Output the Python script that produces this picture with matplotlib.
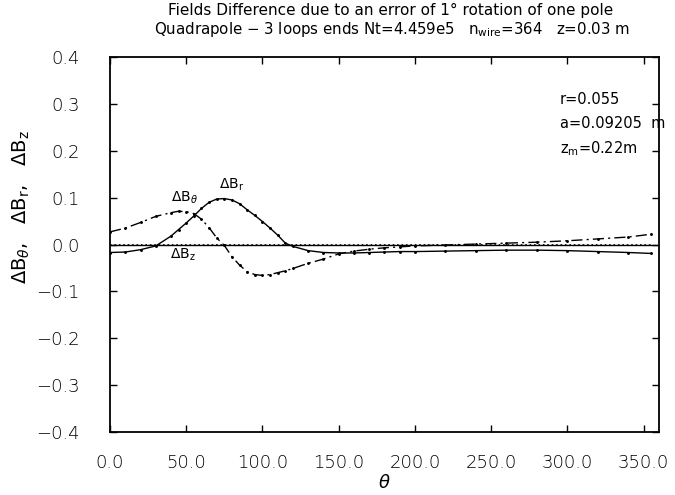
import numpy as np
import matplotlib
matplotlib.use('Agg')
import matplotlib.pyplot as plt

# angle (deg)
theta = [0, 10, 20, 30, 40, 45, 50, 55, 60, 65, 70, 75, 80, 85, 90, 95, 100,
         105, 110, 115, 120, 130, 140, 150, 160, 170, 180, 190, 200, 220,
         240, 260, 280, 300, 320, 340, 355]

# field differences
dBr = [-0.017, -0.016, -0.011, -0.003, 0.018, 0.032, 0.046, 0.061, 0.077,
       0.090, 0.097, 0.098, 0.095, 0.087, 0.074, 0.062, 0.049, 0.035, 0.020,
       0.003, -0.004, -0.013, -0.017, -0.018, -0.018, -0.017, -0.016,
       -0.015, -0.015, -0.014, -0.013, -0.012, -0.012, -0.013, -0.015,
       -0.017, -0.019]
dBt = [0.027, 0.035, 0.047, 0.060, 0.068, 0.071, 0.070, 0.066, 0.054,
       0.036, 0.014, -0.002, -0.026, -0.044, -0.058, -0.064, -0.066, -0.064,
       -0.060, -0.056, -0.051, -0.040, -0.031, -0.020, -0.014, -0.010,
       -0.007, -0.005, -0.003, -0.001, 0.001, 0.003, 0.005, 0.008, 0.012,
       0.016, 0.022]
dBz = [-0.001] * len(theta)

xticks = [0, 50, 100, 150, 200, 250, 300, 350]
yticks = [-0.4, -0.3, -0.2, -0.1, 0.0, 0.1, 0.2, 0.3, 0.4]

fig = plt.figure(figsize=(6.75, 4.95), dpi=100)
ax = fig.add_axes([0.163, 0.127, 0.813, 0.758])

ax.axhline(0, color='k', lw=1.0)
ax.plot(theta, dBr, color='k', lw=1.0, marker='o', ms=1.1)
ax.plot(theta, dBt, color='k', lw=1.0, linestyle=(0, (8, 3, 1.5, 3)),
        marker='o', ms=1.1)
ax.plot(theta, dBz, color='k', lw=1.2, linestyle=':')

ax.set_xlim(0, 360)
ax.set_ylim(-0.4, 0.4)
ax.set_xticks(xticks)
ax.set_xticklabels(['%.1f' % v for v in xticks], fontweight='light')
ax.set_yticks(yticks)
ax.set_yticklabels([('%.1f' % abs(v)) if v >= 0 else '\u2212%.1f' % abs(v)
                    for v in yticks], fontweight='light')
ax.tick_params(direction='in', length=5, width=1, top=True, right=True,
               labelsize=13, colors='k')
ax.tick_params(axis='y', pad=22)
ax.tick_params(axis='x', pad=16)
for s in ax.spines.values():
    s.set_linewidth(1.3)

ax.set_xlabel(r'$\theta$', fontsize=13, labelpad=1)
ax.set_ylabel(r'$\Delta$B$_\theta$,   $\Delta$B$_\mathregular{r}$,   $\Delta$B$_\mathregular{z}$',
              fontsize=14, va='center')
ax.yaxis.set_label_coords(-0.162, 0.60)

ax.text(49, 0.10, r'$\Delta$B$_\theta$', fontsize=10, ha='center', va='center')
ax.text(80, 0.127, r'$\Delta$B$_\mathregular{r}$', fontsize=10, ha='center', va='center')
ax.text(48, -0.022, r'$\Delta$B$_\mathregular{z}$', fontsize=10, ha='center', va='center')

ax.text(295, 0.31, 'r=0.055', fontsize=10.5, va='center')
ax.text(295, 0.257, 'a=0.09205  m', fontsize=10.5, va='center')
ax.text(295, 0.204, r'z$_\mathregular{m}$=0.22m', fontsize=10.5, va='center')

fig.text(0.578, 0.978, 'Fields Difference due to an error of 1\u00b0 rotation of one pole',
         fontsize=11, ha='center', va='center')
fig.text(0.228, 0.940,
         r'Quadrapole $-$ 3 loops ends Nt=4.459e5   n$_\mathregular{wire}$=364   z=0.03 m',
         fontsize=10.8, ha='left', va='center')

fig.savefig('out.png', dpi=100)
